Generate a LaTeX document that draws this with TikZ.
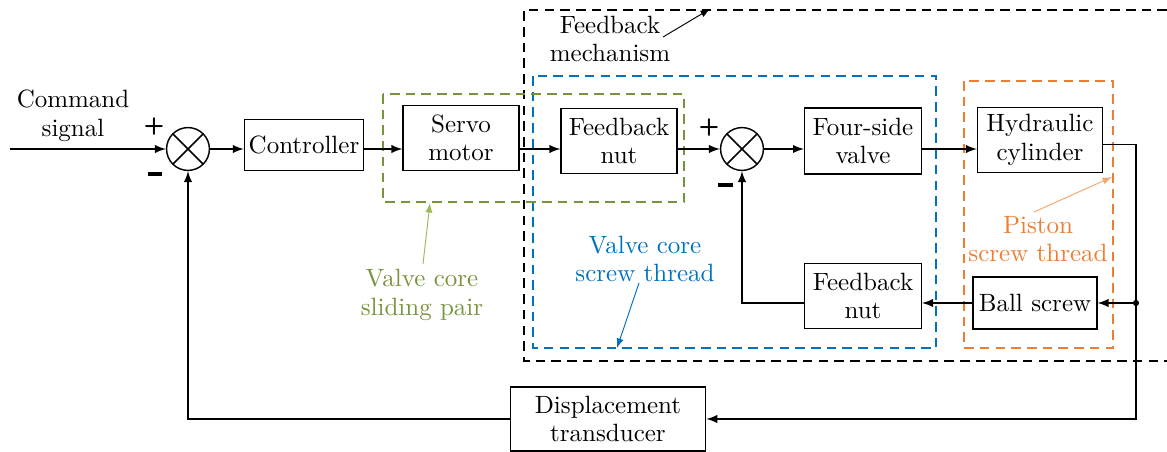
\documentclass[tikz,border=0pt]{standalone}
\usepackage{amsmath}
\usepackage{tikz}
\usetikzlibrary{calc}
\usetikzlibrary{positioning}

\definecolor{coreblue}{HTML}{0072BD}
\definecolor{slidegreen}{HTML}{77933C}
\definecolor{slidegreenlt}{HTML}{9BBB59}
\definecolor{pistonorange}{HTML}{ED7D31}
\definecolor{pistonorangelt}{HTML}{F4A66E}

\tikzset{
  every node/.style={font=\fontsize{10.5}{12}\selectfont},
  blk/.style={draw,semithick,align=center,inner sep=1pt},
  sumnode/.style={draw,semithick,circle,minimum size=18pt,inner sep=0pt,
    path picture={\draw[semithick] (path picture bounding box.north west) -- (path picture bounding box.south east)
      (path picture bounding box.north east) -- (path picture bounding box.south west);}},
  grp/.style={thick,dash pattern=on 4pt off 2.6pt},
  sgn/.style={font=\normalsize\sffamily\bfseries,inner sep=0pt},
  >=latex
}
\newcommand{\minussign}{\rule{6.3pt}{1.4pt}}

\begin{document}
\begin{tikzpicture}[x=0.42pt,y=-0.42pt]
    \useasboundingbox (0,0) rectangle (1167,452);
    % dashed groups
    \draw[grp] (1167,10) -- (524,10) -- (524,361) -- (1167,361);
    \draw[grp,coreblue] (533,76) rectangle (936,348);
    \draw[grp,slidegreen] (383,94) rectangle (684,202);
    \draw[grp,pistonorange] (964,81) rectangle (1113,348);

    % blocks
    \node[blk,minimum width=50pt,minimum height=21.4pt] (ctrl) at (304,145) {Controller};
    \node[blk,minimum width=48.7pt,minimum height=27.3pt] (servo) at (461,138) {Servo\\motor};
    \node[blk,minimum width=48.7pt,minimum height=27.3pt] (fbn1) at (619,141) {Feedback\\nut};
    \node[blk,minimum width=49pt,minimum height=27.7pt] (valve) at (863,141) {Four-side\\valve};
    \node[blk,minimum width=52.5pt,minimum height=27.3pt] (cyl) at (1040,140) {Hydraulic\\cylinder};
    \node[blk,minimum width=52pt,minimum height=21.8pt] (ball) at (1035,303) {Ball screw};
    \node[blk,minimum width=49pt,minimum height=27.3pt] (fbn2) at (863,296) {Feedback\\nut};
    \node[blk,minimum width=82pt,minimum height=27pt] (disp) at (608,419) {Displacement\\transducer};

    % summing junctions
    \node[sgn] (p1) at (154,127) {+};
    \node[sgn] (m1) at (155,174) {\minussign};
    \node[sgn] (p2) at (709,128) {+};
    \node[sgn] (m2) at (725,185) {\minussign};
    \node[sumnode] (sum1) at (188,149) {};
    \node[sumnode] (sum2) at (742,149) {};

    % signals
    \node[align=center] (cmd) at (73,116) {Command\\signal};
    \coordinate (cmdin) at (10,149);
    \coordinate (tap) at (1136,303);
    \draw[->,semithick] (cmdin) -- (sum1);
    \draw[->,semithick] (sum1) -- (sum1 -| ctrl.west);
    \draw[->,semithick] (ctrl.east |- sum1) -- (servo.west |- sum1);
    \draw[->,semithick] (servo.east |- sum1) -- (fbn1.west |- sum1);
    \draw[->,semithick] (fbn1.east |- sum2) -- (sum2);
    \draw[->,semithick] (sum2) -- (sum2 -| valve.west);
    \draw[->,semithick] (valve.east |- sum2) -- (cyl.west |- sum2);
    \draw[->,semithick] ([yshift=-2pt]cyl.east) -| (tap) |- (disp.east);
    \fill (tap) circle (1.3pt);
    \draw[->,semithick] (tap) -- (ball.east);
    \draw[->,semithick] (ball.west) -- (ball.west -| fbn2.east);
    \draw[->,semithick] (fbn2.west |- ball.west) -| (sum2.south);
    \draw[->,semithick] (disp.west) -| (sum1.south);

    % annotations
    \node[align=center] (fbm) at (610,39) {Feedback\\mechanism};
    \draw[->] (663,37) -- (710,9);
    \node[align=center,text=coreblue] (vcst) at (645,259) {Valve core\\screw thread};
    \draw[->,coreblue] (639,283) -- (617,348);
    \node[align=center,text=slidegreen] (vcsp) at (422,295) {Valve core\\sliding pair};
    \draw[->,slidegreenlt] (423,264) -- (430,203);
    \node[align=center,text=pistonorange] (pst) at (1038,239) {Piston\\screw thread};
    \draw[->,pistonorangelt] (1034,212) -- (1112,177);
\end{tikzpicture}
\end{document}
